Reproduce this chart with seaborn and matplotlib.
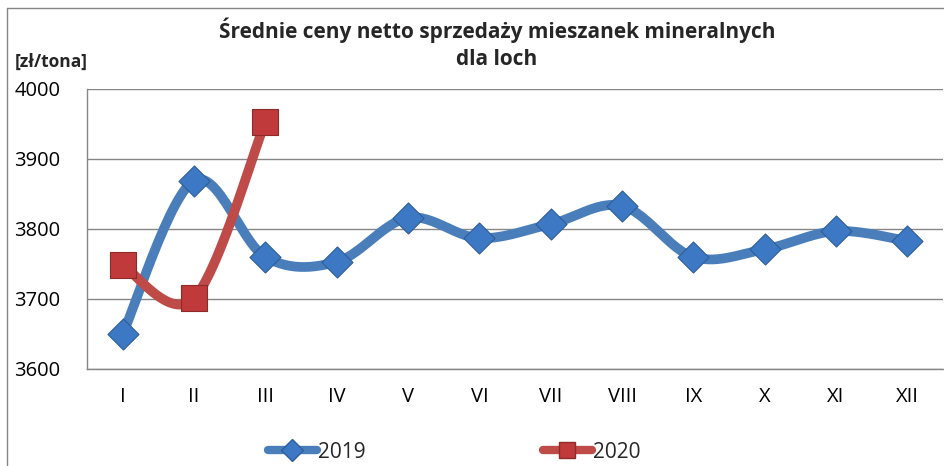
import numpy as np
import pandas as pd
import matplotlib
matplotlib.use("Agg")
import matplotlib.pyplot as plt
import seaborn as sns
from matplotlib.lines import Line2D

months = ["I", "II", "III", "IV", "V", "VI", "VII", "VIII", "IX", "X", "XI", "XII"]
prices_2019 = [3650, 3869, 3760, 3753, 3816, 3787, 3807, 3833, 3760, 3771, 3797, 3783]
prices_2020 = [3748, 3701, 3953]

BLUE_LINE = "#4A7EBB"
BLUE_MARK = "#3C78C3"
RED_LINE = "#BE4B48"
RED_MARK = "#C0393B"


def smooth(xs, ys, n=30):
    # Catmull-Rom curve through the points (Excel style smoothed line)
    xs = np.asarray(xs, float)
    ys = np.asarray(ys, float)
    px = np.concatenate([[xs[0]], xs, [xs[-1]]])
    py = np.concatenate([[ys[0]], ys, [ys[-1]]])
    out_x, out_y = [], []
    t = np.linspace(0, 1, n)
    for i in range(1, len(px) - 2):
        for p, out in ((px, out_x), (py, out_y)):
            p0, p1, p2, p3 = p[i - 1], p[i], p[i + 1], p[i + 2]
            c = 0.5 * ((2 * p1) + (-p0 + p2) * t + (2 * p0 - 5 * p1 + 4 * p2 - p3) * t ** 2
                       + (-p0 + 3 * p1 - 3 * p2 + p3) * t ** 3)
            out.extend(c)
    return np.array(out_x), np.array(out_y)


sns.set_theme(style="white")
plt.rcParams["font.family"] = ["Open Sans", "DejaVu Sans"]

fig = plt.figure(figsize=(9.45, 4.66), dpi=100)
ax = fig.add_axes([87 / 945, 1 - 369 / 466, 856 / 945, 280 / 466])

x19 = np.arange(len(prices_2019))
x20 = np.arange(len(prices_2020))

sx, sy = smooth(x19, prices_2019)
sns.lineplot(x=sx, y=sy, ax=ax, color=BLUE_LINE, linewidth=7, sort=False, zorder=2)
sx, sy = smooth(x20, prices_2020)
sns.lineplot(x=sx, y=sy, ax=ax, color=RED_LINE, linewidth=7, sort=False, zorder=3)

sns.scatterplot(x=x19, y=prices_2019, ax=ax, marker="D", s=250, color=BLUE_MARK,
                edgecolor="#2E5E9A", linewidth=0.8, zorder=4)
sns.scatterplot(x=x20, y=prices_2020, ax=ax, marker="s", s=370, color=RED_MARK,
                edgecolor="#8E2A28", linewidth=0.8, zorder=5)

ax.set_xlim(-0.5, 11.5)
ax.set_ylim(3600, 4000)
ax.set_yticks([3600, 3700, 3800, 3900, 4000])
ax.set_xticks(range(12))
ax.set_xticklabels(months)
ax.set_xticks(np.arange(-0.5, 12, 1), minor=True)
ax.tick_params(axis="x", which="major", length=0, pad=13, labelsize=14.5, colors="#000000")
ax.tick_params(axis="x", which="minor", length=6, width=1, color="#868686", direction="out")
ax.tick_params(axis="y", length=9, width=1, color="#868686", direction="out", pad=10,
               labelsize=14.5, labelcolor="#000000")

ax.grid(axis="y", color="#868686", linewidth=1)
ax.set_axisbelow(True)
for side in ["top", "right"]:
    ax.spines[side].set_visible(False)
for side in ["left", "bottom"]:
    ax.spines[side].set_color("#868686")
    ax.spines[side].set_linewidth(1)
ax.set_xlabel("")
ax.set_ylabel("")

fig.text(497 / 945, 1 - 30 / 466, "Średnie ceny netto sprzedaży mieszanek mineralnych",
         ha="center", va="center", fontsize=15, fontweight="bold")
fig.text(497 / 945, 1 - 60 / 466, "dla loch", ha="center", va="center", fontsize=15, fontweight="bold")
fig.text(15 / 945, 1 - 62 / 466, "[zł/tona]", ha="left", va="center", fontsize=12.5, fontweight="bold")

# chart frame
fig.add_artist(Line2D([7 / 945, 1], [1 - 8 / 466] * 2, color="#868686", linewidth=1))
fig.add_artist(Line2D([7 / 945] * 2, [0, 1 - 8 / 466], color="#868686", linewidth=1))

handles = [
    Line2D([], [], color=BLUE_LINE, linewidth=6, marker="D", markersize=11,
           markerfacecolor=BLUE_MARK, markeredgecolor="#2E5E9A"),
    Line2D([], [], color=RED_LINE, linewidth=6, marker="s", markersize=11,
           markerfacecolor=RED_MARK, markeredgecolor="#8E2A28"),
]
fig.legend(handles, ["2019", "2020"], loc="center", bbox_to_anchor=(454 / 945, 1 - 452 / 466),
           ncol=2, frameon=False, fontsize=15, handlelength=2.35, handletextpad=0.05,
           columnspacing=8.5)

fig.savefig("out.png", dpi=100)
